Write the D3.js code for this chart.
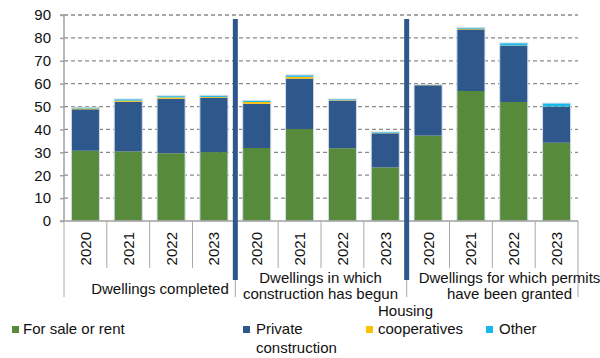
<!DOCTYPE html>
<html><head><meta charset="utf-8">
<script src="https://cdn.jsdelivr.net/npm/d3@7"></script>
<style>body{margin:0;background:#fff}svg{display:block;font-family:"Liberation Sans",Arial,sans-serif}</style>
</head><body><svg id="c" width="600" height="358"></svg>
<script>
const groups = ["Dwellings completed", "Dwellings in which construction has begun", "Dwellings for which permits have been granted"];
const years = ["2020", "2021", "2022", "2023"];
const seriesNames = ["For sale or rent", "Private construction", "Housing cooperatives", "Other"];
const forSale = [30.7, 30.4, 29.6, 30.1, 31.9, 40.2, 31.8, 23.4, 37.3, 56.8, 52.0, 34.2];
const privateC = [18.1, 21.7, 23.8, 23.8, 19.3, 22.0, 20.8, 14.9, 22.0, 26.9, 24.6, 15.7];
const coops = [0.4, 0.5, 0.6, 0.3, 0.8, 0.8, 0.2, 0.1, 0.1, 0.3, 0.1, 0.1];
const other = [0.5, 0.7, 0.7, 0.7, 0.7, 0.8, 0.5, 0.5, 0.2, 0.5, 1.1, 1.5];
const yTicks = [0, 10, 20, 30, 40, 50, 60, 70, 80, 90];
const colors = ["#588a3c", "#2e578c", "#ffc000", "#17b8ec"];

const svg = d3.select("#c");
const L = 64, R = 578, T = 15, B = 221;
const cats = [];
groups.forEach((g, gi) => years.forEach(y => cats.push(gi + "-" + y)));
const x = d3.scaleBand().domain(cats).range([L, R]).paddingInner(0.345).paddingOuter(0.1725);
const y = d3.scaleLinear().domain([0, 90]).range([B, T]);

// gridlines
svg.append("g").selectAll("line").data(yTicks.slice(1)).join("line")
  .attr("x1", L).attr("x2", R).attr("y1", d => y(d)).attr("y2", d => y(d))
  .attr("stroke", "#8a8a8a").attr("stroke-width", 1.3).attr("stroke-dasharray", "4,3");

// stacked bars
const rows = cats.map((c, i) => ({cat: c, s0: forSale[i], s1: privateC[i], s2: coops[i], s3: other[i]}));
const stack = d3.stack().keys(["s0", "s1", "s2", "s3"])(rows);
stack.forEach((layer, li) => {
  svg.append("g").selectAll("rect").data(layer).join("rect")
    .attr("x", d => x(d.data.cat)).attr("width", x.bandwidth())
    .attr("y", d => y(d[1])).attr("height", d => Math.max(0, y(d[0]) - y(d[1])))
    .attr("fill", colors[li]);
});
// light outline of each bar
svg.append("g").selectAll("rect").data(rows).join("rect")
  .attr("x", d => x(d.cat)).attr("width", x.bandwidth())
  .attr("y", d => y(d.s0 + d.s1 + d.s2 + d.s3)).attr("height", d => B - y(d.s0 + d.s1 + d.s2 + d.s3))
  .attr("fill", "none").attr("stroke", "#d4dde8").attr("stroke-width", 1);

// y axis
const ya = svg.append("g").attr("transform", `translate(${L},0)`)
  .call(d3.axisLeft(y).tickValues(yTicks).tickSize(4).tickPadding(9).tickFormat(d3.format("d")));
ya.select(".domain").attr("stroke", "#a0a0a0").attr("stroke-width", 1.5).attr("d", `M-4,${T}H0V${B}`);
ya.selectAll(".tick line").attr("stroke", "#a0a0a0").attr("stroke-width", 1.5);
ya.selectAll("text").attr("font-size", 15).attr("fill", "#111").attr("font-family", "Liberation Sans, Arial, sans-serif");

// x axis line
svg.append("line").attr("x1", L - 4).attr("x2", R).attr("y1", B).attr("y2", B)
  .attr("stroke", "#a0a0a0").attr("stroke-width", 1.5);
// category boundaries
const step = x.step();
const bounds = d3.range(cats.length + 1).map(i => L + i * step);
svg.append("g").selectAll("line").data(bounds).join("line")
  .attr("x1", d => d).attr("x2", d => d).attr("y1", B)
  .attr("y2", (d, i) => (i % 4 === 0) ? 297 : 268)
  .attr("stroke", "#a8a8a8").attr("stroke-width", 1);

// year labels
svg.append("g").selectAll("text").data(cats).join("text")
  .attr("transform", d => `translate(${x(d) + x.bandwidth() / 2 + 5.5},232) rotate(-90)`)
  .attr("text-anchor", "end").attr("font-size", 15).attr("fill", "#111")
  .text(d => d.split("-")[1]);

// group labels
const groupLines = [["Dwellings completed"], ["Dwellings in which", "construction has begun"], ["Dwellings for which permits", "have been granted"]];
const gx = [160, 320.5, 509.5];
groupLines.forEach((lines, gi) => {
  const t = svg.append("text").attr("text-anchor", "middle").attr("font-size", 15).attr("fill", "#111");
  if (lines.length === 1) {
    t.append("tspan").attr("x", gx[gi]).attr("y", 294).text(lines[0]);
  } else {
    lines.forEach((l, li) => t.append("tspan").attr("x", gx[gi]).attr("y", 283 + li * 16).text(l));
  }
});

// separator bars
[4, 8].forEach(i => {
  svg.append("rect").attr("x", bounds[i] - 2.5).attr("width", 5).attr("y", 19).attr("height", 261)
    .attr("fill", "#2e578c");
});

// legend
const leg = [
  {sq: 12, tx: 23, lines: ["For sale or rent"], base: [334]},
  {sq: 243, tx: 256, lines: ["Private", "construction"], base: [334, 353]},
  {sq: 366, tx: 378, lines: ["Housing", "cooperatives"], base: [316, 334]},
  {sq: 486, tx: 499, lines: ["Other"], base: [334]}
];
leg.forEach((l, i) => {
  svg.append("rect").attr("x", l.sq).attr("y", 326).attr("width", 7).attr("height", 7).attr("fill", colors[i]);
  const t = svg.append("text").attr("font-size", 15).attr("fill", "#111");
  l.lines.forEach((s, k) => t.append("tspan").attr("x", l.tx).attr("y", l.base[k]).text(s));
});
</script></body></html>
